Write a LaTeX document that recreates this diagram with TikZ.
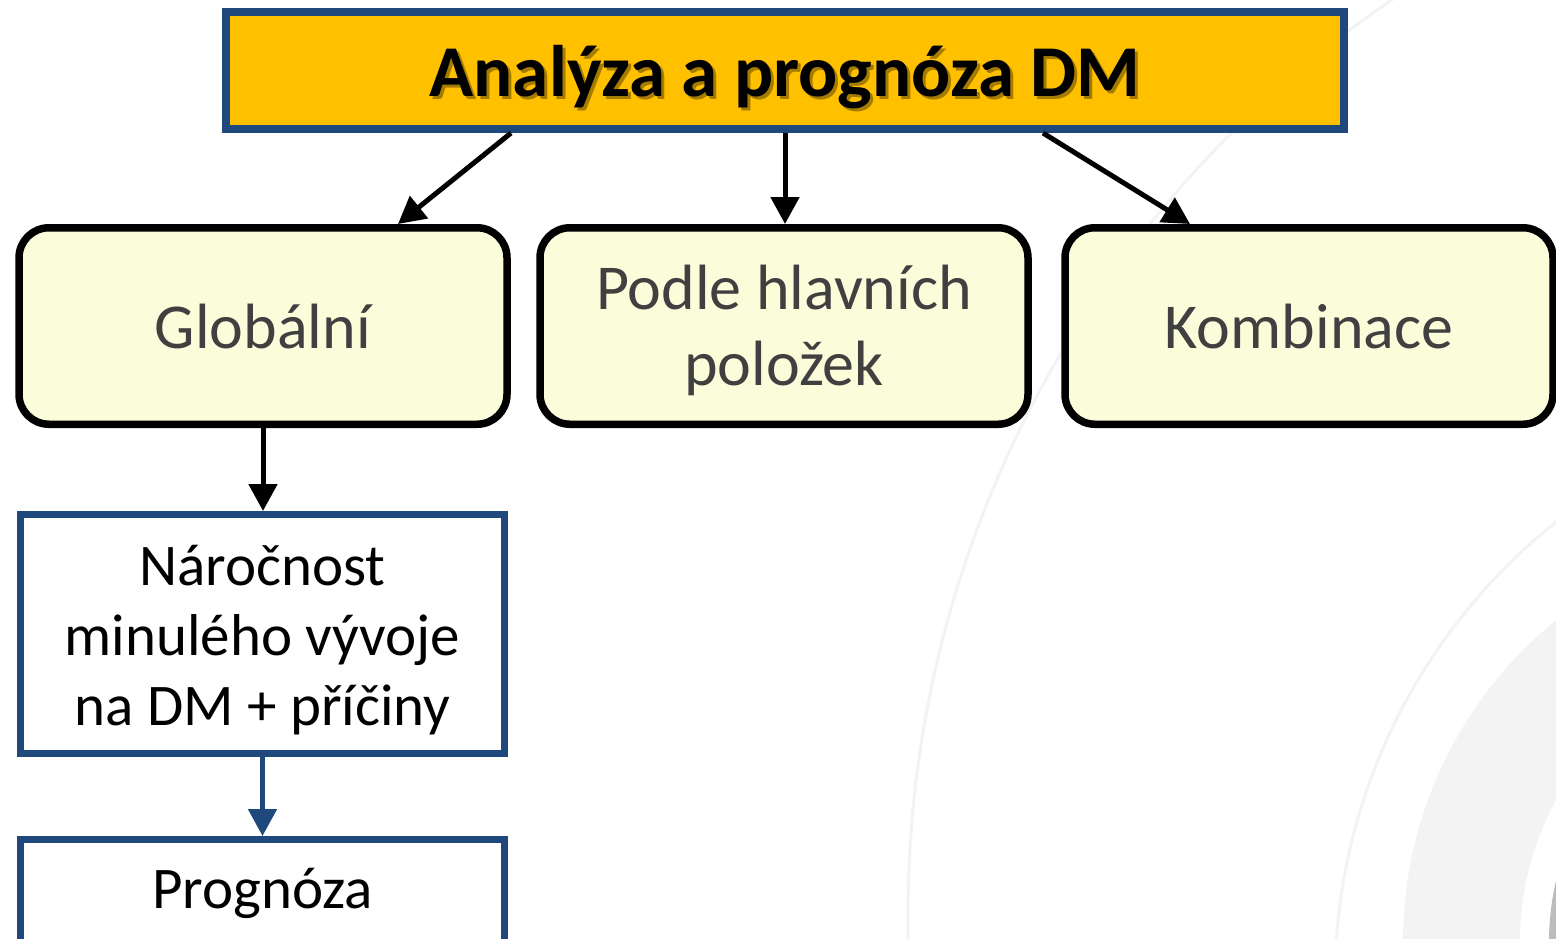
\documentclass[tikz,border=0pt]{standalone}
\usepackage{fontspec}
\setmainfont{Carlito}
\usetikzlibrary{arrows.meta,calc}
\definecolor{dblue}{RGB}{31,73,125}
\definecolor{gold}{RGB}{255,192,0}
\definecolor{cream}{RGB}{250,252,218}
\definecolor{txtgray}{RGB}{64,64,64}
\definecolor{bgline}{RGB}{243,243,243}
\definecolor{bgdark}{RGB}{188,188,188}
\begin{document}
\begin{tikzpicture}[x=1pt,y=-1pt,
  titlebox/.style={draw=dblue,line width=8pt,fill=gold,minimum width=1118pt,minimum height=117pt,inner sep=0pt},
  titlefont/.style={font=\bfseries\fontsize{73}{88}\selectfont,inner sep=0pt,text height=67pt,text depth=16pt},
  roundbox/.style={draw=black,line width=7.5pt,fill=cream,rounded corners=30pt,minimum width=488pt,minimum height=196.5pt,inner sep=0pt,align=center,text=txtgray,font=\fontsize{64}{76}\selectfont},
  flatbox/.style={draw=dblue,line width=7pt,fill=white,minimum width=484pt,inner sep=0pt,align=center,text=black,font=\fontsize{59}{70}\selectfont},
  arr/.style={line width=5pt,-{Triangle[length=27pt,width=28pt]}},
]
\useasboundingbox (0,0) rectangle (1556,938);
\fill[white] (0,0) rectangle (1556,938);
% background decoration
\begin{scope}
\clip (0,0) rectangle (1556,938);
\draw[bgline,line width=3pt] (2015,915) circle[radius=1107pt];
\draw[bgline,line width=3pt] (1922,981) circle[radius=587pt];
\fill[bgline,even odd rule] (1818,942) circle[radius=415pt] (1818,942) circle[radius=298pt];
\fill[bgdark,even odd rule] (1818,942) circle[radius=269pt] (1818,942) circle[radius=240pt];
\end{scope}
% title
\node[titlebox] (top) at (785,70.5) {};
\node[titlefont,text=black,opacity=0.35] (tshadow) at (788,73.5) {Analýza a prognóza DM};
\node[titlefont,text=black] (ttext) at (785,70.5) {Analýza a prognóza DM};
% second row
\node[roundbox,text height=59pt,text depth=15pt] (g) at (263,326) {Globální};
\node[roundbox,text height=133pt,text depth=15pt] (p) at (784,326) {Podle hlavních\\položek};
\node[roundbox,text height=59pt,text depth=15pt] (k) at (1309,326) {Kombinace};
% left column
\node[flatbox,minimum height=239pt,text height=195pt,text depth=13pt] (n) at (262.5,634) {Náročnost\\minulého vývoje\\na DM + příčiny};
\node[flatbox,minimum height=105pt,text height=45pt,text depth=13pt] (pr) at (262.5,892) {Prognóza};
% connectors
\draw[arr] ([xshift=-274pt]top.south) -- ([xshift=135pt]g.north);
\draw[arr] (top.south) -- (top.south |- p.north);
\draw[arr] ([xshift=258pt]top.south) -- ([xshift=-119pt]k.north);
\draw[arr] (g.south) -- (g.south |- n.north);
\draw[arr,dblue] (n.south) -- (n.south |- pr.north);
\end{tikzpicture}
\end{document}
